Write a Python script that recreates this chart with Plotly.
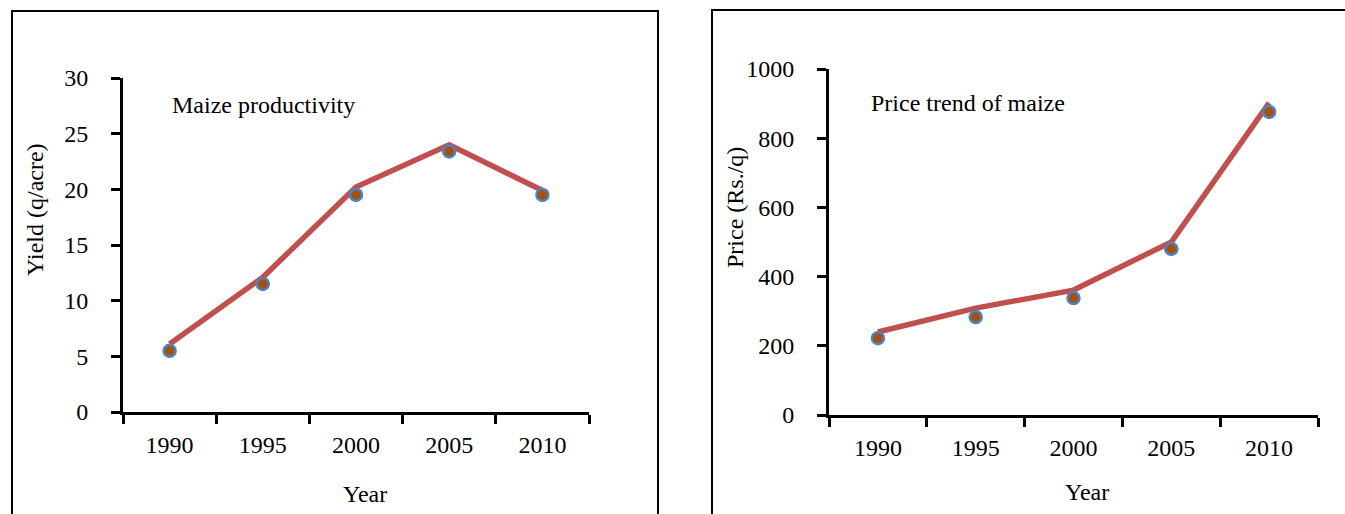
import plotly.graph_objects as go

# ---- data ----
years = ["1990", "1995", "2000", "2005", "2010"]
yield_line = [6.1, 12.1, 20.2, 24.0, 19.9]
yield_points = [5.5, 11.5, 19.5, 23.4, 19.5]
price_line = [240, 309, 361, 500, 902]
price_points = [222, 283, 338, 480, 876]
yield_ticks = [0, 5, 10, 15, 20, 25, 30]
price_ticks = [0, 200, 400, 600, 800, 1000]

W, H = 1345, 514
FONT = "Liberation Serif"
FS = 24
LINE_C = "#C0504D"
MK_FILL = "#A5500F"
MK_EDGE = "#4F81BD"


def fx(px):
    return px / W


def fy(py):
    return 1 - py / H


fig = go.Figure()

# left panel
fig.add_trace(go.Scatter(x=years, y=yield_line, mode="lines",
                         line=dict(color=LINE_C, width=5.5),
                         xaxis="x", yaxis="y", showlegend=False, hoverinfo="skip"))
fig.add_trace(go.Scatter(x=years, y=yield_points, mode="markers",
                         marker=dict(symbol="circle", size=12, color=MK_FILL,
                                     line=dict(color=MK_EDGE, width=2.5)),
                         xaxis="x", yaxis="y", showlegend=False))
# right panel
fig.add_trace(go.Scatter(x=years, y=price_line, mode="lines",
                         line=dict(color=LINE_C, width=5.5),
                         xaxis="x2", yaxis="y2", showlegend=False, hoverinfo="skip"))
fig.add_trace(go.Scatter(x=years, y=price_points, mode="markers",
                         marker=dict(symbol="circle", size=12, color=MK_FILL,
                                     line=dict(color=MK_EDGE, width=2.5)),
                         xaxis="x2", yaxis="y2", showlegend=False))

xcommon = dict(type="category", tickson="boundaries", ticks="outside", ticklen=9,
               tickwidth=3, tickcolor="black", showline=True, linewidth=3,
               linecolor="black", showgrid=False, zeroline=False, range=[-0.5, 4.5],
               tickfont=dict(family=FONT, size=FS, color="black"),
               ticklabelstandoff=9, fixedrange=True, automargin=False)
ycommon = dict(ticks="outside", ticklen=9, tickwidth=3, tickcolor="black",
               showline=True, linewidth=3, linecolor="black", showgrid=False,
               zeroline=False, tickfont=dict(family=FONT, size=FS, color="black"),
               ticklabelstandoff=18, fixedrange=True, automargin=False)

fig.update_layout(
    width=W, height=H, autosize=False,
    showlegend=False,
    margin=dict(l=0, r=0, t=0, b=0, pad=0, autoexpand=False),
    paper_bgcolor="white", plot_bgcolor="white",
    font=dict(family=FONT, size=FS, color="black"),
    xaxis=dict(domain=[fx(123), fx(589)], anchor="y", **xcommon),
    yaxis=dict(domain=[fy(412), fy(78)], anchor="x", range=[0, 30],
               tickvals=yield_ticks, **ycommon),
    xaxis2=dict(domain=[fx(829), fx(1318)], anchor="y2", **xcommon),
    yaxis2=dict(domain=[fy(415), fy(69)], anchor="x2", range=[0, 1000],
                tickvals=price_ticks, **ycommon),
    shapes=[
        dict(type="rect", xref="paper", yref="paper",
             x0=fx(12), x1=fx(658), y0=fy(540), y1=fy(11),
             line=dict(color="black", width=2), layer="below"),
        dict(type="rect", xref="paper", yref="paper",
             x0=fx(712), x1=fx(1360), y0=fy(540), y1=fy(10),
             line=dict(color="black", width=2), layer="below"),
    ],
    annotations=[
        dict(text="Maize productivity", xref="paper", yref="paper",
             x=fx(170), y=fy(105), xanchor="left", yanchor="middle",
             showarrow=False, font=dict(family=FONT, size=FS)),
        dict(text="Price trend of maize", xref="paper", yref="paper",
             x=fx(869), y=fy(103), xanchor="left", yanchor="middle",
             showarrow=False, font=dict(family=FONT, size=FS)),
        dict(text="Year", xref="paper", yref="paper",
             x=fx(365), y=fy(494), xanchor="center", yanchor="middle",
             showarrow=False, font=dict(family=FONT, size=FS)),
        dict(text="Year", xref="paper", yref="paper",
             x=fx(1087), y=fy(492), xanchor="center", yanchor="middle",
             showarrow=False, font=dict(family=FONT, size=FS)),
        dict(text="Yield (q/acre)", xref="paper", yref="paper",
             x=fx(35), y=fy(210), xanchor="center", yanchor="middle",
             textangle=-90, showarrow=False, font=dict(family=FONT, size=FS)),
        dict(text="Price (Rs./q)", xref="paper", yref="paper",
             x=fx(735), y=fy(208), xanchor="center", yanchor="middle",
             textangle=-90, showarrow=False, font=dict(family=FONT, size=FS)),
    ],
)

fig.write_html(
    "out.html",
    config={"displayModeBar": False, "responsive": False},
    post_script="document.body.style.margin='0';document.body.style.overflow='hidden';",
)
